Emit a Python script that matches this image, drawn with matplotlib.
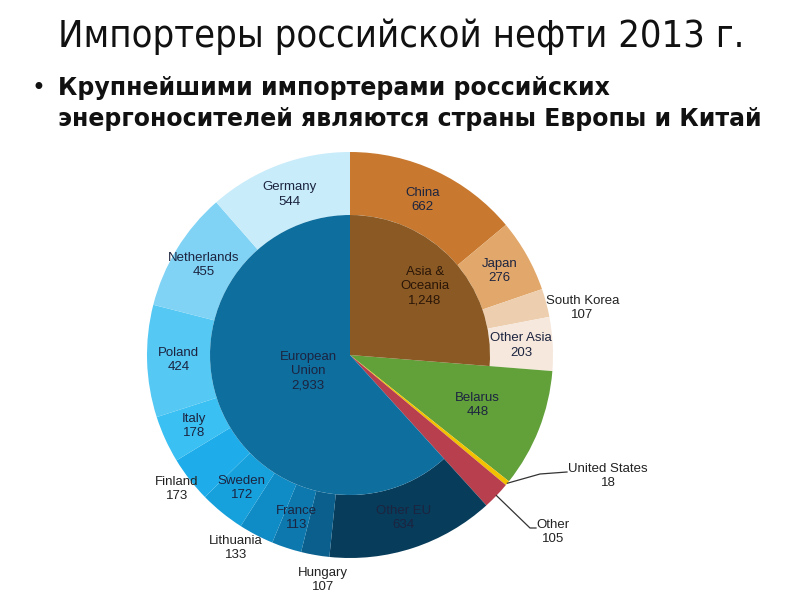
import numpy as np
import matplotlib.pyplot as plt

# outer ring, clockwise from the top
outer_labels = ["China", "Japan", "South Korea", "Other Asia", "Belarus",
                "United States", "Other", "Other EU", "Hungary", "France",
                "Lithuania", "Sweden", "Finland", "Italy", "Poland",
                "Netherlands", "Germany"]
outer_values = [662, 276, 107, 203, 448, 18, 105, 634, 107, 113, 133,
                172, 173, 178, 424, 455, 544]

# inner pie: regions (Belarus / US / Other are full wedges of the outer ring)
inner_labels = ["Asia &\nOceania", "Belarus", "United States", "Other", "European\nUnion"]
inner_values = [1248, 448, 18, 105, 2933]

outer_colors = ["#c8792f", "#e2a86b", "#edceae", "#f6e8dc", "#62a03a",
                "#f2c200", "#b8404e", "#073c5a", "#0b5f8c", "#0c78ad",
                "#0f8bc6", "#16a0dc", "#1eadea", "#3ac0f2", "#55c8f4",
                "#80d3f5", "#c8ecfa"]
inner_colors = ["#8b5a24", "none", "none", "none", "#0e6e9e"]
full_wedges = ["Belarus", "United States", "Other"]

W, H = 800, 600
CX, CY = 350, H - 355
R_OUT, R_IN = 203, 140

fig = plt.figure(figsize=(8, 6), dpi=100)
ax = fig.add_axes([0, 0, 1, 1])

wedges, _ = ax.pie(outer_values, colors=outer_colors, startangle=90, counterclock=False,
                   center=(CX, CY), radius=R_OUT,
                   wedgeprops=dict(width=R_OUT - R_IN, linewidth=0))
for w, name in zip(wedges, outer_labels):
    if name in full_wedges:
        w.set_width(R_OUT)

iwedges, _ = ax.pie(inner_values, colors=inner_colors, startangle=90, counterclock=False,
                    center=(CX, CY), radius=R_IN, wedgeprops=dict(linewidth=0))

ax.set_xlim(0, W)
ax.set_ylim(0, H)
ax.set_aspect("equal")
ax.axis("off")

lab_font = dict(family="Liberation Sans", fontsize=9.5, ha="center", va="center",
                linespacing=1.25)
dark = "#1c2440"


def polar(theta, r):
    t = np.radians(theta)
    return CX + r * np.cos(t), CY + r * np.sin(t)


# label placement: (radius, angle nudge)
special = {"South Korea": (237, -3.4), "Finland": (219, 0), "Lithuania": (224, -3),
           "Hungary": (227, 3), "Belarus": (137, 0)}
outside = ["South Korea", "Finland", "Lithuania", "Hungary"]

for w, name, val in zip(wedges, outer_labels, outer_values):
    mid = (w.theta1 + w.theta2) / 2
    if name in ("United States", "Other"):
        continue
    r, dt = special.get(name, ((R_OUT + R_IN) / 2, 0))
    x, y = polar(mid + dt, r)
    col = "#222222" if name in outside else dark
    ax.text(x, y, f"{name}\n{val:,}", color=col, **lab_font)

# leader lines for the thin slices
for w, name, val in zip(wedges, outer_labels, outer_values):
    mid = (w.theta1 + w.theta2) / 2
    x0, y0 = polar(mid, R_OUT)
    if name == "United States":
        ax.plot([x0, 540, 567], [y0, H - 474, H - 472], color="#333333", lw=0.9)
        ax.text(608, H - 476, f"{name}\n{val:,}", color="#222222", **lab_font)
    elif name == "Other":
        ax.plot([x0, 530, 536], [y0, H - 528, H - 528], color="#333333", lw=0.9)
        ax.text(553, H - 532, f"{name}\n{val:,}", color="#222222", **lab_font)

# inner labels
inner_r = {"Asia &\nOceania": (102, 0), "European\nUnion": (45, 0)}
for w, name, val in zip(iwedges, inner_labels, inner_values):
    if name not in inner_r:
        continue
    mid = (w.theta1 + w.theta2) / 2
    r, dt = inner_r[name]
    x, y = polar(mid + dt, r)
    col = "#2a1608" if name.startswith("Asia") else dark
    ax.text(x, y, f"{name}\n{val:,}", color=col, **lab_font)

# slide title and bullet
fig.text(401 / W, 1 - 37 / H, "Импортеры российской нефти 2013 г.", ha="center", va="center",
         family="DejaVu Sans", fontstretch="condensed", fontsize=27.3, color="#111111")
fig.text(38 / W, 1 - 88 / H, "•", ha="center", va="center", family="DejaVu Sans",
         fontsize=17, color="#111111")
fig.text(58 / W, 1 - 88 / H, "Крупнейшими импортерами российских", ha="left", va="center",
         family="DejaVu Sans", fontweight="bold", fontsize=17,
         color="#111111")
fig.text(58 / W, 1 - 119 / H, "энергоносителей являются страны Европы и Китай", ha="left",
         va="center", family="DejaVu Sans", fontweight="bold",
         fontsize=17, color="#111111")

fig.savefig("out.png", dpi=100, facecolor="white")
